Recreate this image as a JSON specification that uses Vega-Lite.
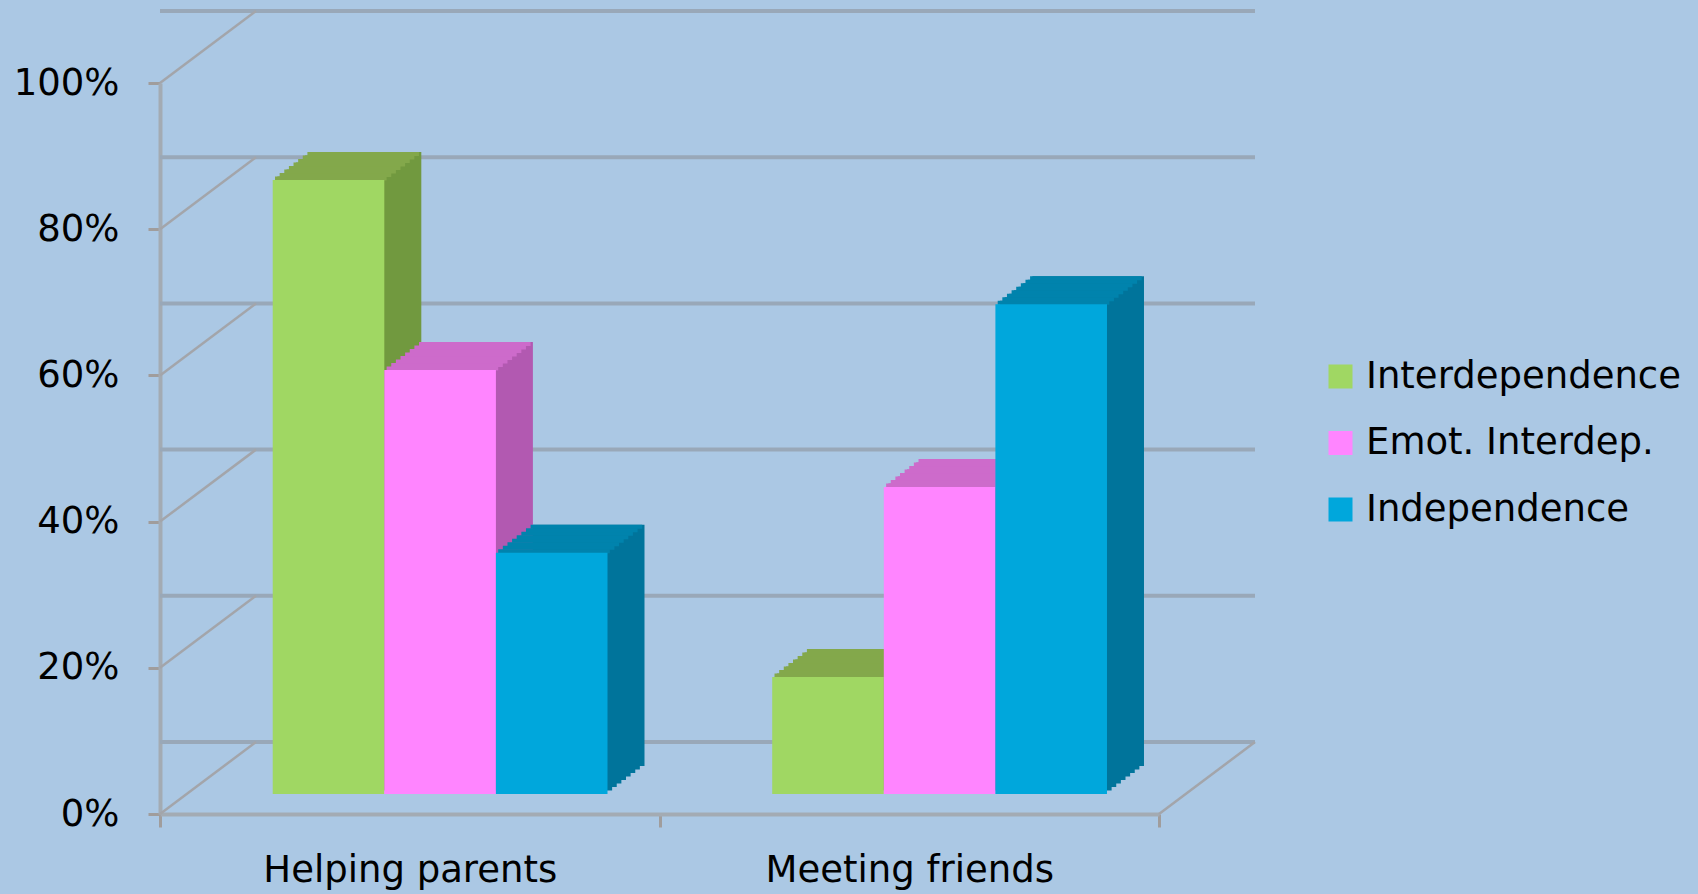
{
  "$schema": "https://vega.github.io/schema/vega-lite/v6.json",
  "width": 999,
  "height": 731,
  "autosize": {"type": "none"},
  "padding": {"left": 160, "top": 83, "right": 539, "bottom": 80},
  "background": "#ABC8E4",
  "config": {"view": {"stroke": null}, "font": "DejaVu Sans"},
  "datasets": {
    "bars": [
      {"activity": "Helping parents", "series": "Interdependence", "value": 84},
      {"activity": "Helping parents", "series": "Emot. Interdep.", "value": 58},
      {"activity": "Helping parents", "series": "Independence", "value": 33},
      {"activity": "Meeting friends", "series": "Interdependence", "value": 16},
      {"activity": "Meeting friends", "series": "Emot. Interdep.", "value": 42},
      {"activity": "Meeting friends", "series": "Independence", "value": 67}
    ],
    "ticks": [{"value": 0}, {"value": 20}, {"value": 40}, {"value": 60}, {"value": 80}, {"value": 100}],
    "corner": [{"value": 0}]
  },
  "resolve": {"scale": {"color": "independent", "xOffset": "independent"}},
  "layer": [
    {
      "data": {"name": "ticks"},
      "mark": {"type": "rule", "color": "#99A8B8", "strokeWidth": 4, "xOffset": 96, "x2Offset": 96, "yOffset": -72},
      "encoding": {"y": {"field": "value", "type": "quantitative", "scale": {"domain": [0, 100], "nice": false},
        "axis": {"title": null, "values": [0, 20, 40, 60, 80, 100], "labelExpr": "datum.value + '%'", "tickSize": 12, "tickWidth": 3, "tickColor": "#A09D9C", "domainColor": "#A3ABB3", "domainWidth": 4, "labelFontSize": 37, "labelColor": "#000000", "labelPadding": 29, "grid": false, "labelFont": "DejaVu Sans"}}}
    },
    {
      "data": {"name": "ticks"},
      "mark": {"type": "rule", "color": "#A3A5AA", "strokeWidth": 2.5, "y2Offset": -72},
      "encoding": {
        "x": {"value": 0}, "x2": {"value": 96},
        "y": {"field": "value", "type": "quantitative",
          "axis": {"title": null, "values": [0, 20, 40, 60, 80, 100], "labelExpr": "datum.value + '%'", "tickSize": 12, "tickWidth": 3, "tickColor": "#A09D9C", "domainColor": "#A3ABB3", "domainWidth": 4, "labelFontSize": 37, "labelColor": "#000000", "labelPadding": 29, "grid": false, "labelFont": "DejaVu Sans"}},
        "y2": {"field": "value"}
      }
    },
    {
      "data": {"name": "corner"},
      "mark": {"type": "rule", "color": "#A3A5AA", "strokeWidth": 2.5, "y2Offset": -72, "x2Offset": 96},
      "encoding": {
        "x": {"value": "width"}, "x2": {"value": "width"},
        "y": {"field": "value", "type": "quantitative",
          "axis": {"title": null, "values": [0, 20, 40, 60, 80, 100], "labelExpr": "datum.value + '%'", "tickSize": 12, "tickWidth": 3, "tickColor": "#A09D9C", "domainColor": "#A3ABB3", "domainWidth": 4, "labelFontSize": 37, "labelColor": "#000000", "labelPadding": 29, "grid": false, "labelFont": "DejaVu Sans"}},
        "y2": {"field": "value"}
      }
    },
    {
      "data": {"name": "bars"},
      "encoding": {
        "x": {
          "field": "activity", "type": "nominal",
          "sort": ["Helping parents", "Meeting friends"],
          "scale": {"paddingInner": 0, "paddingOuter": 0},
          "axis": {
            "title": null, "tickBand": "extent", "tickSize": 13, "tickWidth": 3,
            "tickColor": "#A09D9C", "domainColor": "#A3ABB3", "domainWidth": 4,
            "labelFontSize": 37, "labelColor": "#000000", "labelPadding": 25.5,
            "labelAngle": 0, "labelLimit": 0, "grid": false, "labelFont": "DejaVu Sans"
          }
        },
        "y": {
          "field": "value", "type": "quantitative", "stack": null,
          "axis": {"title": null, "values": [0, 20, 40, 60, 80, 100], "labelExpr": "datum.value + '%'", "tickSize": 12, "tickWidth": 3, "tickColor": "#A09D9C", "domainColor": "#A3ABB3", "domainWidth": 4, "labelFontSize": 37, "labelColor": "#000000", "labelPadding": 29, "grid": false, "labelFont": "DejaVu Sans"}
        }
      },
      "resolve": {"scale": {"color": "independent", "xOffset": "independent"}},
      "layer": [
        {"mark": {"type": "bar", "yOffset": -23.5, "y2Offset": -23.5},
         "encoding": {"y2": {"datum": 0}, "xOffset": {"field": "series", "sort": ["Interdependence", "Emot. Interdep.", "Independence"], "scale": {"paddingInner": 0, "paddingOuter": 0.738, "align": 0.7124}},
                      "color": {"field": "series", "legend": null, "scale": {"domain": ["Interdependence", "Emot. Interdep.", "Independence"], "range": ["#71993F", "#B259B1", "#00749B"]}}}},
        {"mark": {"type": "bar", "yOffset": -27, "y2Offset": -27},
         "encoding": {"y2": {"datum": 0}, "xOffset": {"field": "series", "sort": ["Interdependence", "Emot. Interdep.", "Independence"], "scale": {"paddingInner": 0, "paddingOuter": 0.738, "align": 0.7404}},
                      "color": {"field": "series", "legend": null, "scale": {"domain": ["Interdependence", "Emot. Interdep.", "Independence"], "range": ["#71993F", "#B259B1", "#00749B"]}}}},
        {"mark": {"type": "bar", "yOffset": -30.5, "y2Offset": -30.5},
         "encoding": {"y2": {"datum": 0}, "xOffset": {"field": "series", "sort": ["Interdependence", "Emot. Interdep.", "Independence"], "scale": {"paddingInner": 0, "paddingOuter": 0.738, "align": 0.7685}},
                      "color": {"field": "series", "legend": null, "scale": {"domain": ["Interdependence", "Emot. Interdep.", "Independence"], "range": ["#71993F", "#B259B1", "#00749B"]}}}},
        {"mark": {"type": "bar", "yOffset": -34, "y2Offset": -34},
         "encoding": {"y2": {"datum": 0}, "xOffset": {"field": "series", "sort": ["Interdependence", "Emot. Interdep.", "Independence"], "scale": {"paddingInner": 0, "paddingOuter": 0.738, "align": 0.7966}},
                      "color": {"field": "series", "legend": null, "scale": {"domain": ["Interdependence", "Emot. Interdep.", "Independence"], "range": ["#71993F", "#B259B1", "#00749B"]}}}},
        {"mark": {"type": "bar", "yOffset": -37.5, "y2Offset": -37.5},
         "encoding": {"y2": {"datum": 0}, "xOffset": {"field": "series", "sort": ["Interdependence", "Emot. Interdep.", "Independence"], "scale": {"paddingInner": 0, "paddingOuter": 0.738, "align": 0.8247}},
                      "color": {"field": "series", "legend": null, "scale": {"domain": ["Interdependence", "Emot. Interdep.", "Independence"], "range": ["#71993F", "#B259B1", "#00749B"]}}}},
        {"mark": {"type": "bar", "yOffset": -41, "y2Offset": -41},
         "encoding": {"y2": {"datum": 0}, "xOffset": {"field": "series", "sort": ["Interdependence", "Emot. Interdep.", "Independence"], "scale": {"paddingInner": 0, "paddingOuter": 0.738, "align": 0.8528}},
                      "color": {"field": "series", "legend": null, "scale": {"domain": ["Interdependence", "Emot. Interdep.", "Independence"], "range": ["#71993F", "#B259B1", "#00749B"]}}}},
        {"mark": {"type": "bar", "yOffset": -44.5, "y2Offset": -44.5},
         "encoding": {"y2": {"datum": 0}, "xOffset": {"field": "series", "sort": ["Interdependence", "Emot. Interdep.", "Independence"], "scale": {"paddingInner": 0, "paddingOuter": 0.738, "align": 0.8808}},
                      "color": {"field": "series", "legend": null, "scale": {"domain": ["Interdependence", "Emot. Interdep.", "Independence"], "range": ["#71993F", "#B259B1", "#00749B"]}}}},
        {"mark": {"type": "bar", "yOffset": -48, "y2Offset": -48},
         "encoding": {"y2": {"datum": 0}, "xOffset": {"field": "series", "sort": ["Interdependence", "Emot. Interdep.", "Independence"], "scale": {"paddingInner": 0, "paddingOuter": 0.738, "align": 0.9089}},
                      "color": {"field": "series", "legend": null, "scale": {"domain": ["Interdependence", "Emot. Interdep.", "Independence"], "range": ["#71993F", "#B259B1", "#00749B"]}}}},
        {"mark": {"type": "bar", "yOffset": -23.5, "y2Offset": -19.5},
         "encoding": {"y2": {"field": "value"},
                      "xOffset": {"field": "series", "sort": ["Interdependence", "Emot. Interdep.", "Independence"], "scale": {"paddingInner": 0, "paddingOuter": 0.738, "align": 0.6983}},
                      "color": {"field": "series", "legend": null, "scale": {"domain": ["Interdependence", "Emot. Interdep.", "Independence"], "range": ["#83A84B", "#CD6BCB", "#0083AD"]}}}},
        {"mark": {"type": "bar", "yOffset": -27, "y2Offset": -23},
         "encoding": {"y2": {"field": "value"},
                      "xOffset": {"field": "series", "sort": ["Interdependence", "Emot. Interdep.", "Independence"], "scale": {"paddingInner": 0, "paddingOuter": 0.738, "align": 0.7264}},
                      "color": {"field": "series", "legend": null, "scale": {"domain": ["Interdependence", "Emot. Interdep.", "Independence"], "range": ["#83A84B", "#CD6BCB", "#0083AD"]}}}},
        {"mark": {"type": "bar", "yOffset": -30.5, "y2Offset": -26.5},
         "encoding": {"y2": {"field": "value"},
                      "xOffset": {"field": "series", "sort": ["Interdependence", "Emot. Interdep.", "Independence"], "scale": {"paddingInner": 0, "paddingOuter": 0.738, "align": 0.7545}},
                      "color": {"field": "series", "legend": null, "scale": {"domain": ["Interdependence", "Emot. Interdep.", "Independence"], "range": ["#83A84B", "#CD6BCB", "#0083AD"]}}}},
        {"mark": {"type": "bar", "yOffset": -34, "y2Offset": -30},
         "encoding": {"y2": {"field": "value"},
                      "xOffset": {"field": "series", "sort": ["Interdependence", "Emot. Interdep.", "Independence"], "scale": {"paddingInner": 0, "paddingOuter": 0.738, "align": 0.7826}},
                      "color": {"field": "series", "legend": null, "scale": {"domain": ["Interdependence", "Emot. Interdep.", "Independence"], "range": ["#83A84B", "#CD6BCB", "#0083AD"]}}}},
        {"mark": {"type": "bar", "yOffset": -37.5, "y2Offset": -33.5},
         "encoding": {"y2": {"field": "value"},
                      "xOffset": {"field": "series", "sort": ["Interdependence", "Emot. Interdep.", "Independence"], "scale": {"paddingInner": 0, "paddingOuter": 0.738, "align": 0.8106}},
                      "color": {"field": "series", "legend": null, "scale": {"domain": ["Interdependence", "Emot. Interdep.", "Independence"], "range": ["#83A84B", "#CD6BCB", "#0083AD"]}}}},
        {"mark": {"type": "bar", "yOffset": -41, "y2Offset": -37},
         "encoding": {"y2": {"field": "value"},
                      "xOffset": {"field": "series", "sort": ["Interdependence", "Emot. Interdep.", "Independence"], "scale": {"paddingInner": 0, "paddingOuter": 0.738, "align": 0.8387}},
                      "color": {"field": "series", "legend": null, "scale": {"domain": ["Interdependence", "Emot. Interdep.", "Independence"], "range": ["#83A84B", "#CD6BCB", "#0083AD"]}}}},
        {"mark": {"type": "bar", "yOffset": -44.5, "y2Offset": -40.5},
         "encoding": {"y2": {"field": "value"},
                      "xOffset": {"field": "series", "sort": ["Interdependence", "Emot. Interdep.", "Independence"], "scale": {"paddingInner": 0, "paddingOuter": 0.738, "align": 0.8668}},
                      "color": {"field": "series", "legend": null, "scale": {"domain": ["Interdependence", "Emot. Interdep.", "Independence"], "range": ["#83A84B", "#CD6BCB", "#0083AD"]}}}},
        {"mark": {"type": "bar", "yOffset": -48, "y2Offset": -44},
         "encoding": {"y2": {"field": "value"},
                      "xOffset": {"field": "series", "sort": ["Interdependence", "Emot. Interdep.", "Independence"], "scale": {"paddingInner": 0, "paddingOuter": 0.738, "align": 0.8949}},
                      "color": {"field": "series", "legend": null, "scale": {"domain": ["Interdependence", "Emot. Interdep.", "Independence"], "range": ["#83A84B", "#CD6BCB", "#0083AD"]}}}},
        {"mark": {"type": "bar", "yOffset": -20, "y2Offset": -20},
         "encoding": {"y2": {"datum": 0}, "xOffset": {"field": "series", "sort": ["Interdependence", "Emot. Interdep.", "Independence"], "scale": {"paddingInner": 0, "paddingOuter": 0.738, "align": 0.6843}},
                      "color": {"field": "series", "title": null,
                                "scale": {"domain": ["Interdependence", "Emot. Interdep.", "Independence"], "range": ["#A0D763", "#FF85FF", "#00A7DC"]},
                                "legend": {"orient": "none", "legendX": 1162, "legendY": 275, "symbolType": "square", "symbolSize": 576, "symbolStrokeWidth": 0, "labelFontSize": 37, "labelColor": "#000000", "labelOffset": 7, "rowPadding": 28.5, "padding": 0, "labelLimit": 0, "labelFont": "DejaVu Sans"}}}}
      ]
    }
  ]
}
